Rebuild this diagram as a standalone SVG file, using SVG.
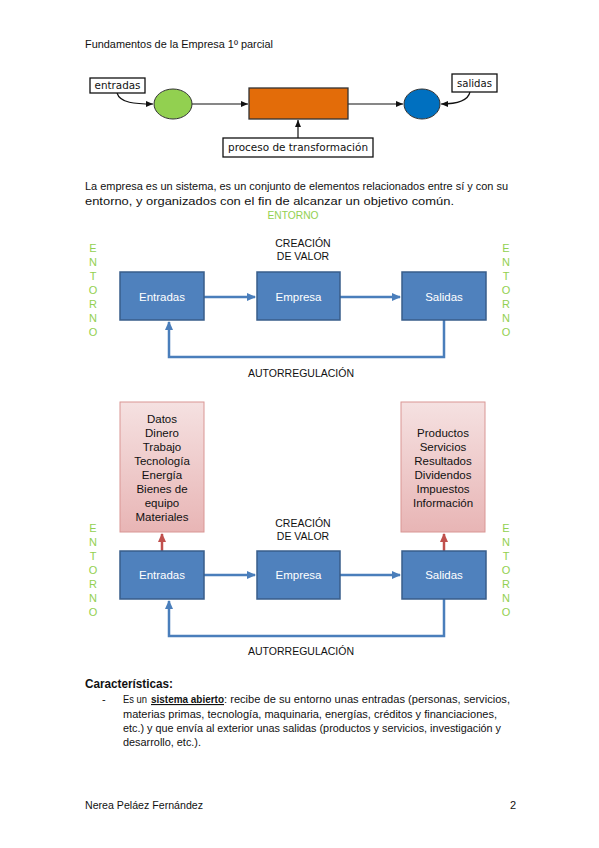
<svg xmlns="http://www.w3.org/2000/svg" width="599" height="848" viewBox="0 0 599 848">
<style>
.doc{font-family:"Liberation Sans",Arial,sans-serif;font-size:11px;fill:#111}
.comic{font-family:"DejaVu Sans",sans-serif;font-size:10px;fill:#111}
.bx{fill:#4f81bd;stroke:#385d8a;stroke-width:1.5}
.bt{font-family:"Liberation Sans",Arial,sans-serif;font-size:11.5px;fill:#fff;text-anchor:middle}
.pk{fill:url(#pinkg);stroke:#d99694;stroke-width:1}
.pt{font-family:"Liberation Sans",Arial,sans-serif;font-size:11.5px;fill:#111;text-anchor:middle}
.lbl{font-family:"Liberation Sans",Arial,sans-serif;font-size:10.5px;fill:#111;text-anchor:middle}
.env{font-family:"Liberation Sans",Arial,sans-serif;font-size:11px;fill:#92d050;text-anchor:middle}
.bl{fill:none;stroke:#4a7ebb;stroke-width:2.5}
.rd{fill:none;stroke:#c0504d;stroke-width:2.5}
.bk{fill:none;stroke:#111;stroke-width:1.2}
.wb{fill:#fff;stroke:#111;stroke-width:1.3}
</style>
<defs>
<linearGradient id="pinkg" x1="0" y1="0" x2="0" y2="1">
<stop offset="0" stop-color="#f5e1e1"/>
<stop offset="1" stop-color="#e8b5b5"/>
</linearGradient>
<marker id="ab" markerUnits="userSpaceOnUse" markerWidth="10" markerHeight="10" refX="8" refY="5" orient="auto"><path d="M0,1 L9,5 L0,9 z" fill="#4a7ebb"/></marker>
<marker id="ar" markerUnits="userSpaceOnUse" markerWidth="10" markerHeight="10" refX="8" refY="5" orient="auto"><path d="M0,1 L9,5 L0,9 z" fill="#c0504d"/></marker>
<marker id="ak" markerUnits="userSpaceOnUse" markerWidth="8" markerHeight="8" refX="7" refY="4" orient="auto"><path d="M0,1 L7,4 L0,7 z" fill="#111"/></marker>
</defs>
<rect width="599" height="848" fill="#fff"/>

<text class="doc" x="85" y="48" textLength="188" lengthAdjust="spacingAndGlyphs">Fundamentos de la Empresa 1º parcial</text>

<!-- top diagram -->
<g id="connectors-top">
<path class="bk" d="M117,93 C120,103 135,104 153,104" marker-end="url(#ak)"/>
<path class="bk" d="M192,104 H248" marker-end="url(#ak)"/>
<path class="bk" d="M348,104 H403" marker-end="url(#ak)"/>
<path class="bk" d="M470,92 C468,101 455,104 441,104" marker-end="url(#ak)"/>
<path class="bk" d="M298,138 V120" marker-end="url(#ak)"/>
</g>
<g id="t-entradas"><rect class="wb" x="90" y="78" width="55" height="15"/><text class="comic" x="117.5" y="89" text-anchor="middle" textLength="46" lengthAdjust="spacingAndGlyphs">entradas</text></g>
<g id="t-ellipse-green"><ellipse cx="173" cy="104" rx="19" ry="15" fill="#92d050" stroke="#333" stroke-width="1"/></g>
<g id="t-proceso-box"><rect x="249" y="88" width="99" height="31" fill="#e36c09" stroke="#333" stroke-width="1.3"/></g>
<g id="t-ellipse-blue"><ellipse cx="422" cy="104" rx="18" ry="15" fill="#0070c0" stroke="#333" stroke-width="1"/></g>
<g id="t-salidas"><rect class="wb" x="452" y="74" width="45" height="18"/><text class="comic" x="474.5" y="87" text-anchor="middle" textLength="35" lengthAdjust="spacingAndGlyphs">salidas</text></g>
<g id="t-proceso"><rect class="wb" x="223" y="138" width="150" height="19"/><text class="comic" x="298" y="151" text-anchor="middle" textLength="140" lengthAdjust="spacingAndGlyphs">proceso de transformación</text></g>

<text class="doc" x="85" y="190" textLength="423" lengthAdjust="spacingAndGlyphs">La empresa es un sistema, es un conjunto de elementos relacionados entre sí y con su</text>
<text class="doc" x="85" y="205" textLength="369" lengthAdjust="spacingAndGlyphs">entorno, y organizados con el fin de alcanzar un objetivo común.</text>
<text class="doc" x="293" y="219" text-anchor="middle" style="fill:#92d050" textLength="51" lengthAdjust="spacingAndGlyphs">ENTORNO</text>

<!-- diagram 2 -->
<g id="d2-entorno-left"><text class="env"><tspan x="93" y="252">E</tspan><tspan x="93" y="266">N</tspan><tspan x="93" y="280">T</tspan><tspan x="93" y="294">O</tspan><tspan x="93" y="308">R</tspan><tspan x="93" y="322">N</tspan><tspan x="93" y="336">O</tspan></text></g>
<g id="d2-entorno-right"><text class="env"><tspan x="506" y="252">E</tspan><tspan x="506" y="266">N</tspan><tspan x="506" y="280">T</tspan><tspan x="506" y="294">O</tspan><tspan x="506" y="308">R</tspan><tspan x="506" y="322">N</tspan><tspan x="506" y="336">O</tspan></text></g>
<g id="d2-creacion"><text class="lbl"><tspan x="303" y="247">CREACIÓN</tspan><tspan x="303" y="260">DE VALOR</tspan></text></g>
<g id="d2-connectors">
<path class="bl" d="M204,297 H255" marker-end="url(#ab)"/>
<path class="bl" d="M340,297 H400" marker-end="url(#ab)"/>
<path class="bl" d="M444,320 V357 H169 V322" marker-end="url(#ab)"/>
</g>
<g id="d2-entradas"><rect class="bx" x="120" y="272" width="84" height="48"/><text class="bt" x="162" y="301">Entradas</text></g>
<g id="d2-empresa"><rect class="bx" x="257" y="272" width="83" height="48"/><text class="bt" x="298.5" y="301">Empresa</text></g>
<g id="d2-salidas"><rect class="bx" x="402" y="272" width="84" height="48"/><text class="bt" x="444" y="301">Salidas</text></g>
<text class="lbl" x="301" y="377">AUTORREGULACIÓN</text>

<!-- diagram 3 -->
<g id="d3-entorno-left"><text class="env"><tspan x="93" y="532">E</tspan><tspan x="93" y="546">N</tspan><tspan x="93" y="560">T</tspan><tspan x="93" y="574">O</tspan><tspan x="93" y="588">R</tspan><tspan x="93" y="602">N</tspan><tspan x="93" y="616">O</tspan></text></g>
<g id="d3-entorno-right"><text class="env"><tspan x="506" y="532">E</tspan><tspan x="506" y="546">N</tspan><tspan x="506" y="560">T</tspan><tspan x="506" y="574">O</tspan><tspan x="506" y="588">R</tspan><tspan x="506" y="602">N</tspan><tspan x="506" y="616">O</tspan></text></g>
<g id="d3-inputs"><rect class="pk" x="120" y="402" width="84" height="130"/><text class="pt"><tspan x="162" y="423">Datos</tspan><tspan x="162" y="437">Dinero</tspan><tspan x="162" y="451">Trabajo</tspan><tspan x="162" y="465">Tecnología</tspan><tspan x="162" y="479">Energía</tspan><tspan x="162" y="493">Bienes de</tspan><tspan x="162" y="507">equipo</tspan><tspan x="162" y="521">Materiales</tspan></text></g>
<g id="d3-outputs"><rect class="pk" x="401" y="402" width="84" height="130"/><text class="pt"><tspan x="443" y="437">Productos</tspan><tspan x="443" y="451">Servicios</tspan><tspan x="443" y="465">Resultados</tspan><tspan x="443" y="479">Dividendos</tspan><tspan x="443" y="493">Impuestos</tspan><tspan x="443" y="507">Información</tspan></text></g>
<g id="d3-creacion"><text class="lbl"><tspan x="303" y="527">CREACIÓN</tspan><tspan x="303" y="540">DE VALOR</tspan></text></g>
<g id="d3-connectors">
<path class="rd" d="M162,551 V534" marker-end="url(#ar)"/>
<path class="rd" d="M444,551 V534" marker-end="url(#ar)"/>
<path class="bl" d="M204,575 H255" marker-end="url(#ab)"/>
<path class="bl" d="M340,575 H400" marker-end="url(#ab)"/>
<path class="bl" d="M444,599 V636 H169 V601" marker-end="url(#ab)"/>
</g>
<g id="d3-entradas"><rect class="bx" x="120" y="551" width="84" height="48"/><text class="bt" x="162" y="579">Entradas</text></g>
<g id="d3-empresa"><rect class="bx" x="257" y="551" width="83" height="48"/><text class="bt" x="298.5" y="579">Empresa</text></g>
<g id="d3-salidas"><rect class="bx" x="402" y="551" width="84" height="48"/><text class="bt" x="444" y="579">Salidas</text></g>
<text class="lbl" x="301" y="655">AUTORREGULACIÓN</text>

<!-- text -->
<text class="doc" x="85" y="688" style="font-size:13px;font-weight:bold" textLength="88" lengthAdjust="spacingAndGlyphs">Características:</text>
<text class="doc" x="102" y="703">-</text>
<text class="doc" x="123" y="703" textLength="24" lengthAdjust="spacingAndGlyphs">Es un</text>
<text class="doc" x="151" y="703" style="font-weight:bold;text-decoration:underline" textLength="73" lengthAdjust="spacingAndGlyphs">sistema abierto</text>
<text class="doc" x="224" y="703" textLength="286" lengthAdjust="spacingAndGlyphs">: recibe de su entorno unas entradas (personas, servicios,</text>
<text class="doc" x="123" y="718" textLength="374" lengthAdjust="spacingAndGlyphs">materias primas, tecnología, maquinaria, energías, créditos y financiaciones,</text>
<text class="doc" x="123" y="732" textLength="378" lengthAdjust="spacingAndGlyphs">etc.) y que envía al exterior unas salidas (productos y servicios, investigación y</text>
<text class="doc" x="123" y="746" textLength="78" lengthAdjust="spacingAndGlyphs">desarrollo, etc.).</text>

<text class="doc" x="85" y="809" textLength="118" lengthAdjust="spacingAndGlyphs">Nerea Peláez Fernández</text>
<text class="doc" x="510" y="809">2</text>
</svg>
